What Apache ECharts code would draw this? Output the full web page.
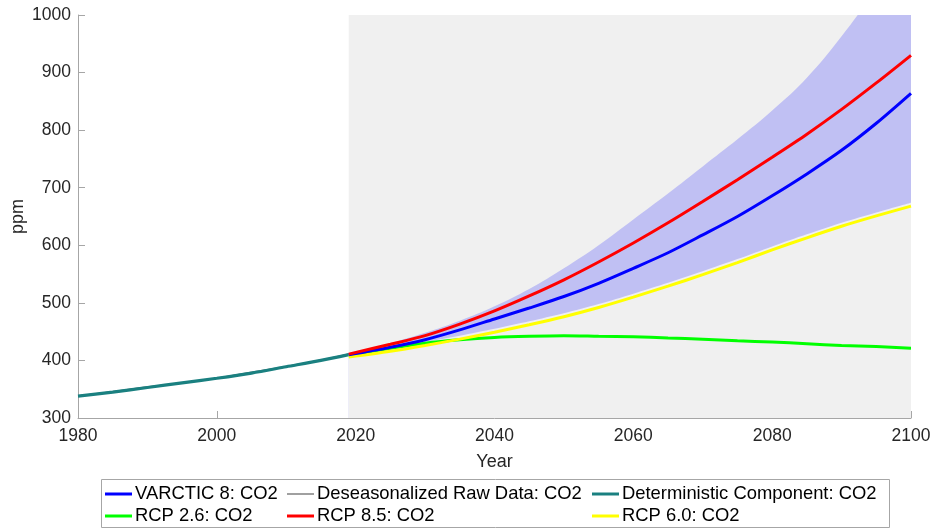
<!DOCTYPE html>
<html>
<head>
<meta charset="utf-8">
<script src="https://cdn.jsdelivr.net/npm/echarts@6/dist/echarts.min.js"></script>
<style>html,body{margin:0;padding:0;background:#fff}#c{width:935px;height:529px}</style>
</head>
<body>
<div id="c"></div>
<script>
// Historical years
const histYears = [1980, 1985, 1990, 1995, 2000, 2005, 2010, 2015, 2019];
const deterministic = [338, 345, 353, 361, 369, 378, 389, 400, 410];
const rawData = [338.7, 346.1, 354.4, 360.8, 369.6, 379.8, 389.9, 401.0, 411.4];

// Projection years
const projYears = [2019, 2025, 2030, 2035, 2040, 2045, 2050, 2055, 2060, 2065, 2070, 2075, 2080, 2085, 2090, 2095, 2100];
const varctic = [410, 423, 436, 453, 472, 491, 511, 534, 560, 587, 618, 650, 686, 724, 765, 812, 864];
const rcp85   = [411, 428, 443, 463, 486, 512, 540, 571, 604, 639, 676, 714, 753, 793, 836, 882, 930];
const rcp60   = [406, 416, 426, 437, 449, 462, 476, 492, 510, 529, 549, 570, 592, 613, 633, 651, 668];
const rcp26   = [409, 421, 430, 436, 440, 442, 443, 442, 441, 439, 437, 434, 432, 429, 426, 424, 421];
const bandLower = [410, 421, 432, 443, 455, 468, 482, 498, 516, 535, 555, 576, 598, 619, 639, 657, 674];
const bandUpper = [410, 430, 448, 469, 494, 524, 560, 600, 645, 690, 737, 784, 834, 891, 963, 1045, 1130];

const xTicks = [1980, 2000, 2020, 2040, 2060, 2080, 2100];
const yTicks = [300, 400, 500, 600, 700, 800, 900, 1000];
const shadeRange = [2019, 2100];

const pair = (xs, ys) => xs.map((x, i) => [x, ys[i]]);
const FONT = 'Liberation Sans, Arial, Helvetica, sans-serif';

const chart = echarts.init(document.getElementById('c'), null, {renderer: 'canvas'});

function lg(name, left, top, h) {
  return {
    data: [{name: name, icon: 'rect'}],
    left: left, top: top, orient: 'horizontal',
    itemWidth: 27, itemHeight: h || 3, itemGap: 0,
    textStyle: {fontFamily: FONT, fontSize: 18.4, color: '#000', padding: [0,0,0,-2]},
    selectedMode: false, padding: 0
  };
}

const axisCommon = {
  axisLine: {show: true, lineStyle: {color: '#a6a6a6', width: 1}},
  axisTick: {show: true, inside: true, length: 7, lineStyle: {color: '#a6a6a6'}},
  splitLine: {show: false},
  nameMoveOverlap: false
};

const option = {
  animation: false,
  backgroundColor: '#fff',
  grid: {left: 78, right: 24, top: 15, bottom: 111, containLabel: false, outerBoundsMode: 'none'},
  xAxis: Object.assign({
    type: 'value', min: xTicks[0], max: xTicks[xTicks.length - 1], interval: 20,
    name: 'Year', nameLocation: 'middle', nameGap: 35,
    nameTextStyle: {fontFamily: FONT, fontSize: 18, color: '#262626'},
    axisLabel: {fontFamily: FONT, fontSize: 17.5, color: '#262626', margin: 9, formatter: v => String(v)}
  }, axisCommon),
  yAxis: Object.assign({
    type: 'value', min: yTicks[0], max: yTicks[yTicks.length - 1], interval: 100,
    name: 'ppm', nameLocation: 'middle', nameGap: 60, nameRotate: 90,
    nameTextStyle: {fontFamily: FONT, fontSize: 18, color: '#262626', verticalAlign: 'middle'},
    axisLabel: {fontFamily: FONT, fontSize: 17.5, color: '#262626', margin: 7, formatter: v => String(v)}
  }, axisCommon),
  legend: [
    lg('VARCTIC 8: CO2', 105, 485),
    lg('RCP 2.6: CO2', 105, 507),
    lg('Deseasonalized Raw Data: CO2', 287, 485, 1),
    lg('RCP 8.5: CO2', 287, 507),
    lg('Deterministic Component: CO2', 592, 485),
    lg('RCP 6.0: CO2', 592, 507)
  ],
  graphic: [{
    type: 'rect', shape: {x: 101.5, y: 479.5, width: 788, height: 48},
    style: {fill: 'none', stroke: '#a6a6a6', lineWidth: 1}, z: 0
  }],
  series: [
    {
      name: 'bandUpper', type: 'line', data: pair(projYears, bandUpper),
      showSymbol: false, smooth: 0.4, lineStyle: {width: 0}, z: 1, silent: true,
      areaStyle: {color: 'rgba(0,0,255,0.2)', opacity: 1, origin: 'start'},
      markArea: {silent: true, itemStyle: {color: '#f0f0f0'}, data: [[{xAxis: shadeRange[0]}, {xAxis: shadeRange[1]}]]}
    },
    {
      name: 'bandLower', type: 'line', data: pair(projYears, bandLower),
      showSymbol: false, smooth: 0.3, lineStyle: {width: 0},
      areaStyle: {color: '#f0f0f0', opacity: 1, origin: 'start'}, z: 2, silent: true
    },
    {name: 'Deseasonalized Raw Data: CO2', type: 'line', data: pair(histYears, rawData), showSymbol: false, smooth: 0.3,
     color: '#404040', lineStyle: {width: 0.8, color: '#404040'}, z: 3},
    {name: 'Deterministic Component: CO2', type: 'line', data: pair(histYears, deterministic), showSymbol: false, smooth: 0.3,
     color: '#1a8080', lineStyle: {width: 3.2, color: '#1a8080'}, z: 4},
    {name: 'RCP 2.6: CO2', type: 'line', data: pair(projYears, rcp26), showSymbol: false, smooth: 0.3,
     color: '#00ff00', lineStyle: {width: 3, color: '#00ff00'}, z: 5},
    {name: 'RCP 6.0: CO2', type: 'line', data: pair(projYears, rcp60), showSymbol: false, smooth: 0.3,
     color: '#ffff00', lineStyle: {width: 3, color: '#ffff00'}, z: 6},
    {name: 'VARCTIC 8: CO2', type: 'line', data: pair(projYears, varctic), showSymbol: false, smooth: 0.3,
     color: '#0000ff', lineStyle: {width: 3, color: '#0000ff'}, z: 7},
    {name: 'RCP 8.5: CO2', type: 'line', data: pair(projYears, rcp85), showSymbol: false, smooth: 0.3,
     color: '#ff0000', lineStyle: {width: 3, color: '#ff0000'}, z: 8}
  ]
};
chart.setOption(option);
</script>
</body>
</html>
